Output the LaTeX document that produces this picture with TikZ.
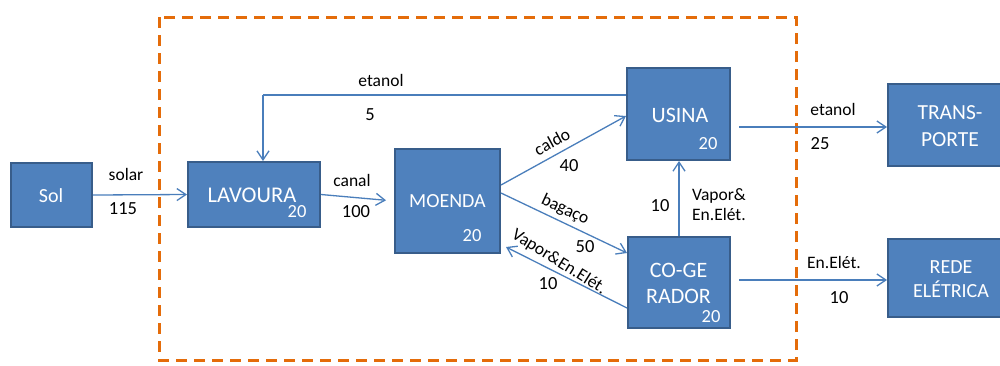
\documentclass[tikz,border=0pt]{standalone}
\usepackage{fontspec}
\setmainfont{Carlito}
\usetikzlibrary{arrows.meta}
\definecolor{boxfill}{HTML}{4F81BD}
\definecolor{boxline}{HTML}{385D8A}
\definecolor{conn}{HTML}{4A7EBB}
\definecolor{orng}{HTML}{E46C0A}
\begin{document}
\begin{tikzpicture}[x=1pt,y=-1pt,
  blk/.style={draw=boxline,line width=2pt,fill=boxfill,text=white,inner sep=0pt,
    font=\fontsize{19}{24}\selectfont,align=center},
  btxt/.style={text=white,inner sep=0pt,align=center},
  num/.style={text=white,inner sep=0pt,font=\fontsize{18.5}{20}\selectfont},
  lbl/.style={inner sep=0pt,font=\fontsize{17.5}{20}\selectfont},
  val/.style={inner sep=0pt,font=\fontsize{18.5}{20}\selectfont},
  flow/.style={draw=conn,line width=1.3pt,-{Straight Barb[length=9pt,width=12pt,line width=1.3pt]}},
  flowline/.style={draw=conn,line width=1.3pt}]
\useasboundingbox (0,0) rectangle (1000,365);
% system boundary
\draw[orng,line width=3pt,dash pattern=on 11pt off 7pt] (159,17) rectangle (796,360);
% blocks
\node[blk,minimum width=81pt,minimum height=64pt] (sol) at (51.5,195) {};
\node[btxt,font=\fontsize{20}{24}\selectfont] (solt) at (51,196) {Sol};
\node[blk,minimum width=132pt,minimum height=65pt] (lav) at (254,194.5) {};
\node[btxt,font=\fontsize{22.5}{24}\selectfont] (lavt) at (252,195.5) {LAVOURA};
\node[num] (lavn) at (297,211.5) {20};
\node[blk,minimum width=105pt,minimum height=104pt] (moe) at (447.5,201) {};
\node[btxt,font=\fontsize{20}{24}\selectfont] (moet) at (447.5,201.5) {MOENDA};
\node[num] (moen) at (472,236) {20};
\node[blk,minimum width=103pt,minimum height=92pt] (usi) at (678.5,114) {};
\node[btxt,font=\fontsize{22}{24}\selectfont] (usit) at (680,115) {USINA};
\node[num] (usin) at (708,144) {20};
\node[blk,minimum width=102pt,minimum height=91pt] (cog) at (679,282.5) {};
\node[btxt,font=\fontsize{22}{26}\selectfont] (cogt) at (678.5,283) {CO-GE\\RADOR};
\node[num] (cogn) at (711,317) {20};
\node[blk,minimum width=124pt,minimum height=82pt] (tra) at (950,125) {};
\node[btxt,font=\fontsize{21.5}{27}\selectfont] (trat) at (950,126.5) {TRANS-\\PORTE};
\node[blk,minimum width=126pt,minimum height=78pt] (red) at (951,278) {};
\node[btxt,font=\fontsize{20}{24}\selectfont] (redt) at (951,279) {REDE\\ELÉTRICA};
% connectors
\draw[flow] (sol.east) -- (lav.west);
\draw[flow,shorten >=8pt] (lav.east) -- (moe.west);
\coordinate (fb) at (263,95);
\draw[flowline] (usi.west |- fb) -- (fb);
\draw[flow] (fb) -- (fb |- lav.north);
\draw[flow] ([yshift=16pt]moe.east) -- ([yshift=-2pt]usi.west);
\draw[flow] ([yshift=8pt]moe.east) -- ([yshift=29.5pt]cog.west);
\draw[flow] ([yshift=-25.5pt]cog.west) -- ([xshift=5pt,yshift=-46pt]moe.east);
\draw[flow] (cog.north) -- (cog.north |- usi.south);
\draw[flow,shorten <=8pt] ([yshift=-13pt]usi.east) -- ([yshift=-13pt]usi.east -| tra.west);
\draw[flow,shorten <=8pt] ([yshift=2.5pt]cog.east) -- ([yshift=2.5pt]cog.east -| red.west);
% labels
\node[lbl] (l1) at (126,174) {solar};
\node[val] (v1) at (123,209) {115};
\node[lbl] (l2) at (352,180) {canal};
\node[val] (v2) at (356,212) {100};
\node[lbl] (l3) at (381,80) {etanol};
\node[val] (v3) at (370,115) {5};
\node[lbl,rotate=28.5] (l4) at (552,142) {caldo};
\node[val] (v4) at (569,166) {40};
\node[lbl,rotate=-25] (l5) at (565,210) {bagaço};
\node[val] (v5) at (585,247) {50};
\node[lbl,rotate=-32] (l6) at (559,262) {Vapor\&En.Elét.};
\node[val] (v6) at (548,284) {10};
\node[val] (v7) at (660,206) {10};
\node[lbl,align=left] (l7) at (719,205) {Vapor\&\\En.Elét.};
\node[lbl] (l8) at (833,109) {etanol};
\node[val] (v8) at (820,144) {25};
\node[lbl] (l9) at (834,262) {En.Elét.};
\node[val] (v9) at (839,298) {10};
\end{tikzpicture}
\end{document}
